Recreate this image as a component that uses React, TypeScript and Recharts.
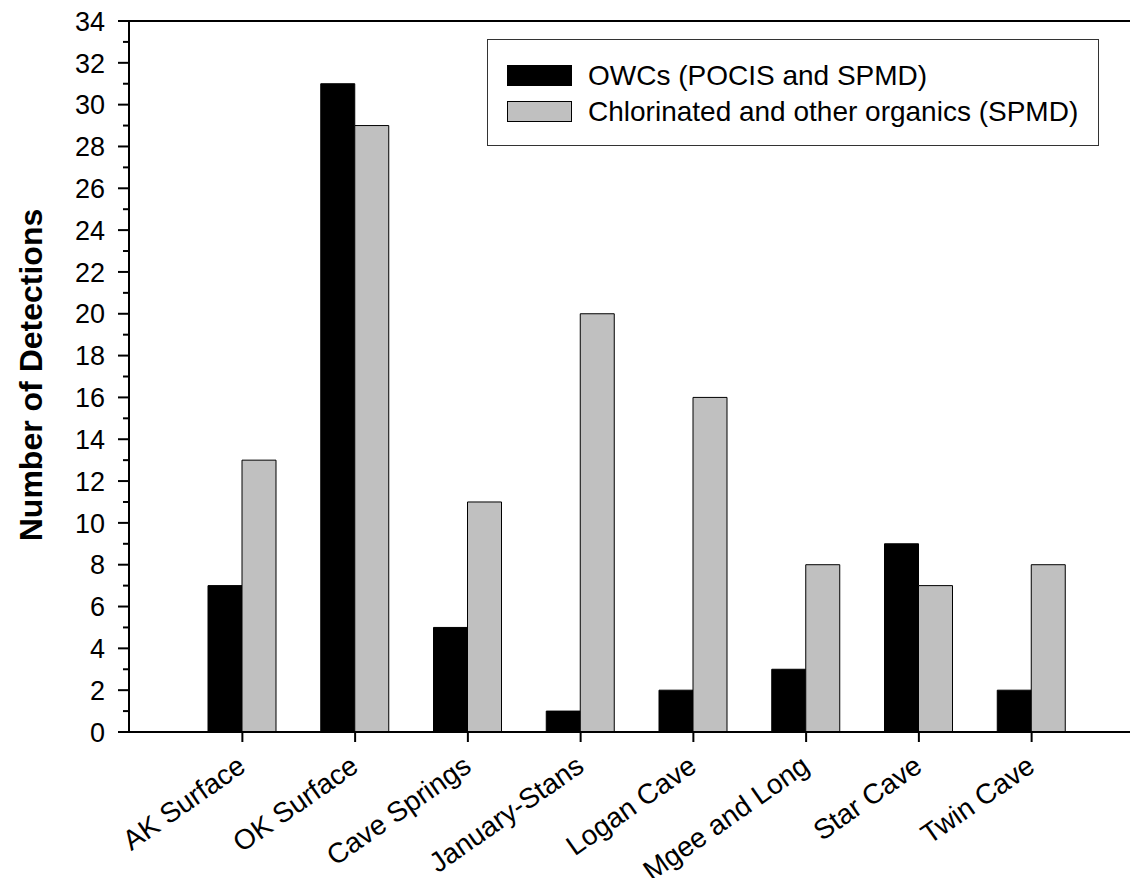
import { Bar, BarChart, Label, Legend, ReferenceLine, XAxis, YAxis } from "recharts";

const sites = [
  "AK Surface",
  "OK Surface",
  "Cave Springs",
  "January-Stans",
  "Logan Cave",
  "Mgee and Long",
  "Star Cave",
  "Twin Cave",
];
const owcs = [7, 31, 5, 1, 2, 3, 9, 2];
const chlorinated = [13, 29, 11, 20, 16, 8, 7, 8];
const yTicks = [
  0, 1, 2, 3, 4, 5, 6, 7, 8, 9, 10, 11, 12, 13, 14, 15, 16, 17, 18, 19, 20, 21, 22, 23, 24, 25, 26, 27,
  28, 29, 30, 31, 32, 33, 34,
];
const seriesNames = ["OWCs (POCIS and SPMD)", "Chlorinated and other organics (SPMD)"];
const seriesColors = ["#000000", "#c0c0c0"];

const FONT = '"Liberation Sans", Arial, Helvetica, sans-serif';

const chartData = sites.map((site, i) => ({
  site,
  owcs: owcs[i],
  chlorinated: chlorinated[i],
}));

function XTick(props: any) {
  const { x, y, payload } = props;
  return (
    <g>
      <line x1={x} y1={y} x2={x} y2={y + 10} stroke="#000" strokeWidth={2} />
      <text
        x={x + 5}
        y={y + 38}
        textAnchor="end"
        fontSize={28}
        fontFamily={FONT}
        fill="#000"
        transform={`rotate(-35, ${x + 5}, ${y + 38})`}
      >
        {payload.value}
      </text>
    </g>
  );
}

function YTick(props: any) {
  const { x, y, payload } = props;
  const major = payload.value % 2 === 0;
  return (
    <g>
      <line x1={x - (major ? 11 : 6)} y1={y} x2={x} y2={y} stroke="#000" strokeWidth={2} />
      {major && (
        <text x={x - 24} y={y} dy="0.36em" textAnchor="end" fontSize={27} fontFamily={FONT} fill="#000">
          {payload.value}
        </text>
      )}
    </g>
  );
}

function LegendBox() {
  return (
    <div style={{ paddingTop: 25, paddingLeft: 19, fontFamily: FONT }}>
      {seriesNames.map((name, i) => (
        <div key={name} style={{ display: "flex", alignItems: "center", height: 21, marginBottom: 15 }}>
          <div
            style={{
              width: 65,
              height: 21,
              background: seriesColors[i],
              border: "1px solid #000",
              boxSizing: "border-box",
            }}
          />
          <span style={{ marginLeft: 16, fontSize: 28, lineHeight: "21px", color: "#000", whiteSpace: "nowrap" }}>
            {name}
          </span>
        </div>
      ))}
    </div>
  );
}

export default function App() {
  return (
    <div style={{ position: "absolute", left: 0, top: 0, background: "#fff" }}>
      <BarChart
        width={1131}
        height={878}
        data={chartData}
        margin={{ top: 21, right: 1, bottom: 106, left: 89 }}
        barGap={0}
        barSize={34}
      >
        <XAxis
          dataKey="site"
          height={40}
          padding={{ left: 57, right: 42 }}
          interval={0}
          axisLine={{ stroke: "#000", strokeWidth: 2 }}
          tickLine={false}
          tickSize={0}
          tickMargin={0}
          tick={<XTick />}
        />
        <YAxis
          type="number"
          domain={[0, 34]}
          ticks={yTicks}
          interval={0}
          width={40}
          axisLine={{ stroke: "#000", strokeWidth: 2 }}
          tickLine={false}
          tickSize={0}
          tickMargin={0}
          tick={<YTick />}
        >
          <Label
            content={() => (
              <text
                x={42}
                y={375}
                textAnchor="middle"
                fontSize={32}
                fontWeight="bold"
                fontFamily={FONT}
                fill="#000"
                transform="rotate(-90, 42, 375)"
              >
                Number of Detections
              </text>
            )}
          />
        </YAxis>
        <ReferenceLine y={34} stroke="#000" strokeWidth={2} />
        <Legend
          layout="vertical"
          align="center"
          verticalAlign="middle"
          content={<LegendBox />}
          wrapperStyle={{
            position: "absolute",
            left: 487,
            top: 39,
            width: 612,
            height: 107,
            border: "1.5px solid #333",
            background: "#fff",
            boxSizing: "border-box",
          }}
        />
        <Bar
          dataKey="owcs"
          name={seriesNames[0]}
          fill={seriesColors[0]}
          stroke="#000"
          strokeWidth={1}
          isAnimationActive={false}
        />
        <Bar
          dataKey="chlorinated"
          name={seriesNames[1]}
          fill={seriesColors[1]}
          stroke="#000"
          strokeWidth={1}
          isAnimationActive={false}
        />
      </BarChart>
    </div>
  );
}
